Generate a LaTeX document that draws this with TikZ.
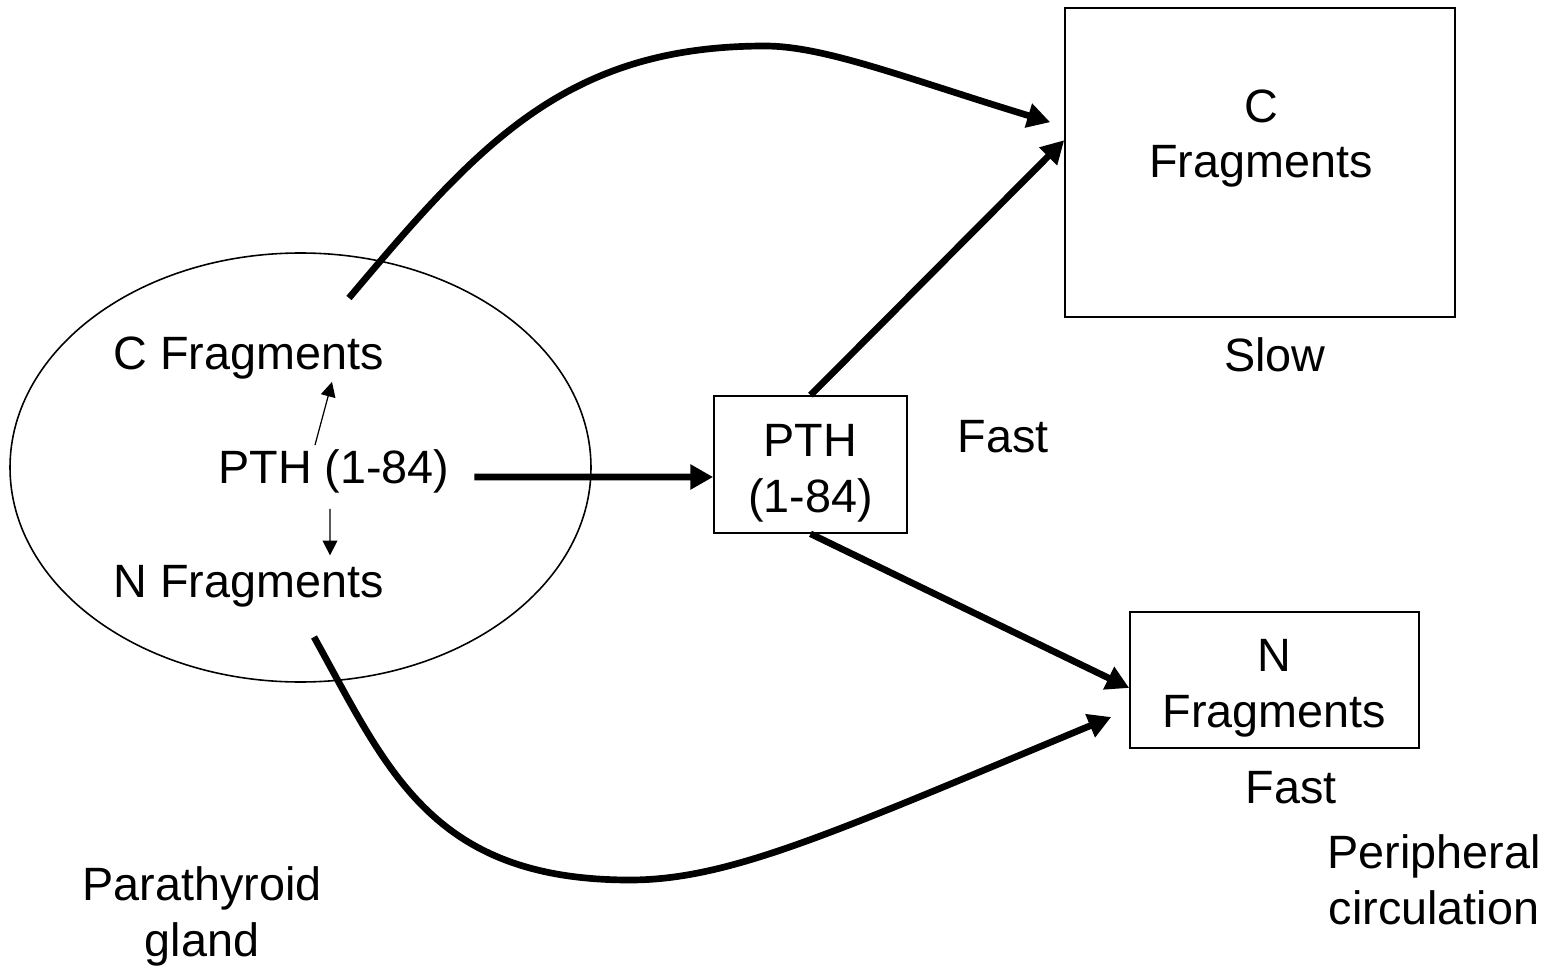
\documentclass[tikz,border=0pt]{standalone}
\usepackage{fontspec}
\setmainfont{Liberation Sans}
\usetikzlibrary{arrows.meta,shapes.geometric}
\tikzset{
  txt/.style={inner sep=0pt, align=center},
  frame/.style={draw, line width=0.45pt, inner sep=0pt, align=center},
  flow/.style={line width=1.9pt, -{Triangle[length=6.5pt,width=6.8pt]}},
  split/.style={line width=0.35pt, -{Triangle[length=4.2pt,width=4.2pt]}}
}
\begin{document}
\begin{tikzpicture}[font=\fontsize{13.3}{15.9}\selectfont]
  \useasboundingbox (0,0) rectangle (15.52,-9.70);

  \node[draw, ellipse, line width=0.45pt, inner sep=0pt, minimum width=5.81cm, minimum height=4.29cm] (gland) at (3.005,-4.675) {};
  \node[txt] (cfrag) at (2.485,-3.58) {C Fragments};
  \node[txt] (pth) at (3.34,-4.715) {PTH (1-84)};
  \node[txt] (nfrag) at (2.485,-5.865) {N Fragments};
  \node[txt] (glandlbl) at (2.02,-9.165) {Parathyroid\\gland};

  \node[frame, minimum width=1.93cm, minimum height=1.37cm, text height=1.05cm] (pthbox) at (8.105,-4.645) {PTH\\(1-84)};
  \node[txt] (fastmid) at (10.03,-4.365) {Fast};

  \node[frame, minimum width=3.90cm, minimum height=3.09cm] (cbox) at (12.60,-1.625) {};
  \node[txt] (ctext) at (12.61,-1.385) {C\\Fragments};
  \node[txt] (slow) at (12.75,-3.55) {Slow};

  \node[frame, minimum width=2.89cm, minimum height=1.36cm, text height=1.05cm] (nbox) at (12.745,-6.80) {N\\Fragments};
  \node[txt] (fastn) at (12.91,-7.88) {Fast};
  \node[txt] (periph) at (14.34,-8.80) {Peripheral\\circulation};

  \draw[split] ([shift={(-0.19,0.04)}]pth.north) -- ([shift={(0.835,-0.02)}]cfrag.south);
  \draw[split] ([shift={(-0.04,-0.15)}]pth.south) -- ([shift={(0.815,0.095)}]nfrag.north);

  \draw[flow] ([shift={(0.24,-0.055)}]pth.east) -- ([yshift=-0.125cm]pthbox.west);
  \draw[flow] (pthbox.north) -- ([yshift=-1.33cm]cbox.north west);
  \draw[flow] (pthbox.south) -- ([yshift=-0.08cm]nbox.west);

  \coordinate (cstart) at (3.49,-2.98);
  \coordinate (nstart) at (3.14,-6.37);
  \draw[flow] (cstart) .. controls (4.78,-1.45) and (5.65,-0.46) .. (7.65,-0.46)
    .. controls (8.25,-0.46) and (9.08,-0.79) .. ([shift={(-0.14,-1.15)}]cbox.north west);
  \draw[flow] (nstart) .. controls (3.87,-7.68) and (4.30,-8.80) .. (6.30,-8.80)
    .. controls (7.30,-8.80) and (8.35,-8.32) .. ([shift={(-0.18,-0.37)}]nbox.west);
\end{tikzpicture}
\end{document}
